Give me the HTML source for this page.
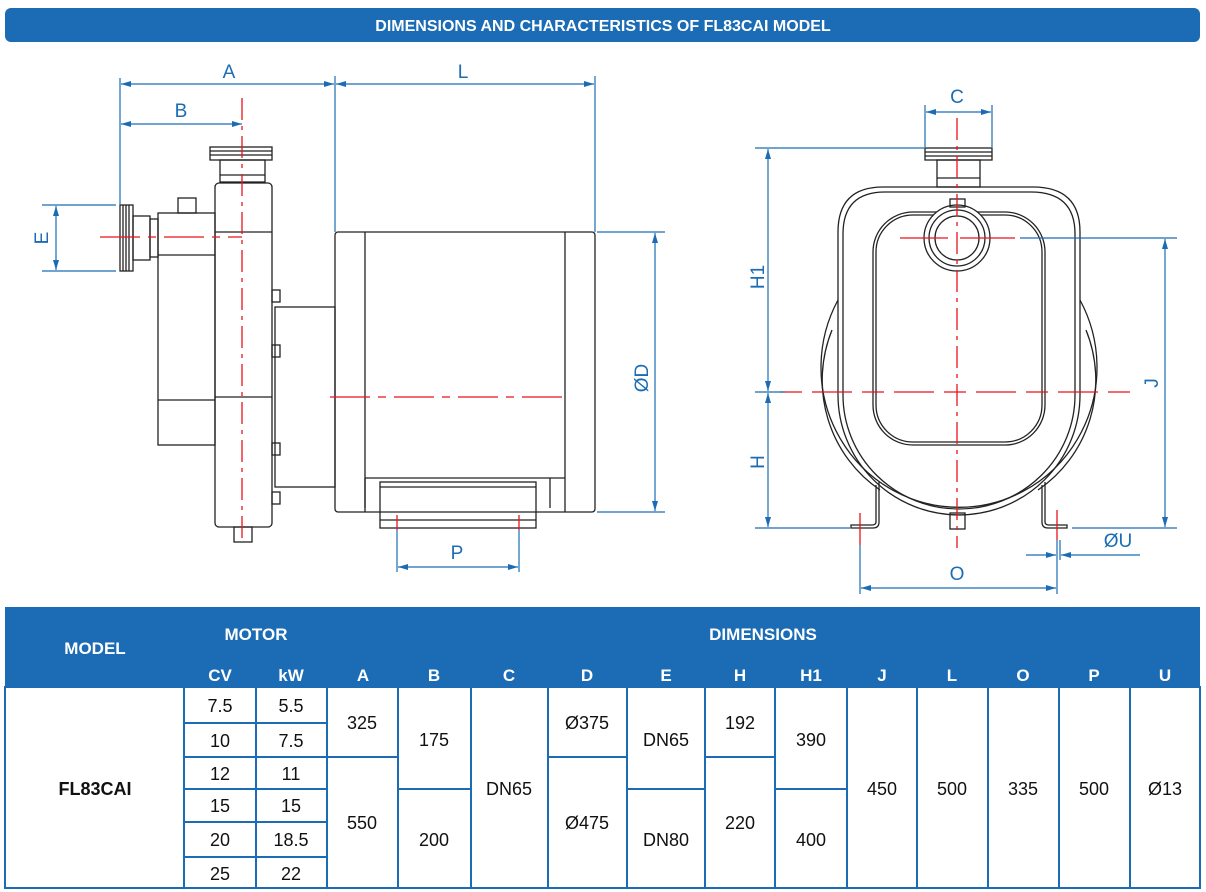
<!DOCTYPE html>
<html><head><meta charset="utf-8"><style>
html,body{margin:0;padding:0;background:#fff;}
svg{display:block;font-family:"Liberation Sans",sans-serif;}
</style></head><body>
<svg width="1206" height="892" viewBox="0 0 1206 892" xmlns="http://www.w3.org/2000/svg">
<defs>
<marker id="ar" viewBox="0 0 10 6" refX="10" refY="3" markerWidth="10" markerHeight="6" orient="auto-start-reverse" markerUnits="userSpaceOnUse"><path d="M0,0 L10,3 L0,6 z" fill="#1b6cb5"/></marker>
</defs>
<rect x="5" y="8" width="1195" height="34" rx="6" fill="#1b6cb5"/>
<text x="603" y="31" fill="#fff" font-size="16" font-weight="bold" text-anchor="middle">DIMENSIONS AND CHARACTERISTICS OF FL83CAI MODEL</text>

<g fill="none" stroke="#222" stroke-width="1.3">
 <rect x="210" y="147" width="62" height="13"/>
 <line x1="210" y1="151" x2="272" y2="151"/><line x1="210" y1="155" x2="272" y2="155"/>
 <rect x="220" y="160" width="45" height="22"/>
 <line x1="220" y1="175" x2="265" y2="175"/>
 <rect x="215" y="183" width="57" height="344" rx="4"/>
 <line x1="215" y1="232" x2="272" y2="232"/><line x1="215" y1="397" x2="272" y2="397"/>
 <rect x="158" y="213" width="57" height="232"/>
 <line x1="158" y1="400" x2="215" y2="400"/>
 <line x1="158" y1="255" x2="215" y2="255"/>
 <rect x="178" y="198" width="18" height="15"/>
 <rect x="120" y="205" width="13" height="66"/>
 <line x1="123" y1="205" x2="123" y2="271"/><line x1="126" y1="205" x2="126" y2="271"/><line x1="129" y1="205" x2="129" y2="271"/>
 <rect x="133" y="216" width="17" height="44"/>
 <rect x="150" y="219" width="8" height="38"/>
 <rect x="272" y="290" width="8" height="12"/><rect x="272" y="345" width="8" height="12"/>
 <rect x="272" y="443" width="8" height="12"/><rect x="272" y="492" width="8" height="12"/>
 <rect x="275" y="307" width="60" height="180"/>
 <rect x="335" y="232" width="260" height="280" rx="3"/>
 <line x1="365" y1="232" x2="365" y2="512"/><line x1="565" y1="232" x2="565" y2="512"/>
 <line x1="365" y1="478" x2="565" y2="478"/>
 <line x1="365" y1="478" x2="365" y2="508"/><line x1="550" y1="478" x2="550" y2="508"/>
 <rect x="380" y="482" width="156" height="46"/>
 <line x1="380" y1="487" x2="536" y2="487"/><line x1="380" y1="520" x2="536" y2="520"/>
 <rect x="234" y="527" width="18" height="15"/>
</g>
<g stroke="#e8141c" stroke-width="1.3" fill="none">
 <line x1="242" y1="98" x2="242" y2="540" stroke-dasharray="22,6,4,6"/>
 <line x1="100" y1="237" x2="242" y2="237" stroke-dasharray="40,8,8,8"/>
 <line x1="330" y1="397" x2="565" y2="397" stroke-dasharray="40,8,8,8"/>
 <line x1="397" y1="515" x2="397" y2="530"/><line x1="519" y1="515" x2="519" y2="530"/>
</g>
<g stroke="#1b6cb5" stroke-width="1.2" fill="none">
 <line x1="120" y1="78" x2="120" y2="205"/>
 <line x1="335" y1="76" x2="335" y2="232"/>
 <line x1="595" y1="76" x2="595" y2="232"/>
 <line x1="121" y1="84" x2="334" y2="84" marker-start="url(#ar)" marker-end="url(#ar)"/>
 <line x1="336" y1="84" x2="594" y2="84" marker-start="url(#ar)" marker-end="url(#ar)"/>
 <line x1="121" y1="124" x2="242" y2="124" marker-start="url(#ar)" marker-end="url(#ar)"/>
 <line x1="42" y1="205" x2="116" y2="205"/><line x1="42" y1="271" x2="116" y2="271"/>
 <line x1="56" y1="206" x2="56" y2="270" marker-start="url(#ar)" marker-end="url(#ar)"/>
 <line x1="597" y1="232" x2="665" y2="232"/><line x1="597" y1="512" x2="665" y2="512"/>
 <line x1="655" y1="233" x2="655" y2="511" marker-start="url(#ar)" marker-end="url(#ar)"/>
 <line x1="397" y1="530" x2="397" y2="572"/><line x1="519" y1="530" x2="519" y2="572"/>
 <line x1="398" y1="567" x2="518" y2="567" marker-start="url(#ar)" marker-end="url(#ar)"/>
</g>
<g fill="#1b6cb5" font-size="19" text-anchor="middle">
 <text x="229" y="78">A</text><text x="463" y="78">L</text><text x="181" y="117">B</text>
 <text x="457" y="559">P</text>
 <text transform="translate(48,238) rotate(-90)">E</text>
 <text transform="translate(648,378) rotate(-90)">ØD</text>
</g>

<g fill="none" stroke="#222" stroke-width="1.3">
 <rect x="925" y="148" width="67" height="12"/>
 <line x1="925" y1="152" x2="992" y2="152"/><line x1="925" y1="156" x2="992" y2="156"/>
 <rect x="937" y="160" width="43" height="27"/>
 <line x1="937" y1="178" x2="980" y2="178"/>
 <path d="M838,395 L838,232 Q838,187 883,187 L1033,187 Q1080,187 1080,232 L1080,395 A121,120 0 0,1 838,395"/>
 <path d="M843,395 L843,234 Q843,192 885,192 L1031,192 Q1075,192 1075,234 L1075,395 A116,114 0 0,1 843,395"/>
 <path d="M838,300 A138,140 0 1,0 1080,300"/>
 <path d="M832,330 A130,132 0 0,0 880,490"/>
 <path d="M1086,330 A130,132 0 0,1 1038,490"/>
 <rect x="873" y="212" width="172" height="233" rx="40"/>
 <rect x="876" y="215" width="166" height="227" rx="37"/>
 <circle cx="957" cy="238" r="33" fill="#fff"/><circle cx="957" cy="238" r="28"/><circle cx="957" cy="238" r="22"/>
 <rect x="950" y="199" width="15" height="8"/>
 <path d="M876,485 L876,522 Q876,525 872,525 L851,525 L851,528 L873,528 Q879,528 879,522 L879,482"/>
 <path d="M1042,485 L1042,522 Q1042,528 1048,528 L1067,528 L1067,525 L1049,525 Q1045,525 1045,522 L1045,482"/>
 <rect x="950" y="513" width="15" height="16"/>
</g>
<g stroke="#e8141c" stroke-width="1.3" fill="none">
 <line x1="957" y1="118" x2="957" y2="548" stroke-dasharray="22,6,4,6"/>
 <line x1="900" y1="238" x2="948" y2="238"/><line x1="960" y1="238" x2="1015" y2="238"/>
 <line x1="780" y1="392" x2="1140" y2="392" stroke-dasharray="22,10,40,10"/>
 <line x1="860" y1="513" x2="860" y2="545"/><line x1="1057" y1="510" x2="1057" y2="540"/>
</g>
<g stroke="#1b6cb5" stroke-width="1.2" fill="none">
 <line x1="925" y1="105" x2="925" y2="147"/><line x1="992" y1="105" x2="992" y2="147"/>
 <line x1="926" y1="112" x2="991" y2="112" marker-start="url(#ar)" marker-end="url(#ar)"/>
 <line x1="755" y1="148" x2="925" y2="148"/>
 <line x1="755" y1="392" x2="785" y2="392"/>
 <line x1="755" y1="528" x2="850" y2="528"/>
 <line x1="768" y1="149" x2="768" y2="391" marker-start="url(#ar)" marker-end="url(#ar)"/>
 <line x1="768" y1="393" x2="768" y2="527" marker-start="url(#ar)" marker-end="url(#ar)"/>
 <line x1="1020" y1="238" x2="1177" y2="238"/>
 <line x1="1072" y1="528" x2="1177" y2="528"/>
 <line x1="1165" y1="239" x2="1165" y2="527" marker-start="url(#ar)" marker-end="url(#ar)"/>
 <line x1="860" y1="545" x2="860" y2="594"/><line x1="1057" y1="540" x2="1057" y2="594"/>
 <line x1="1060" y1="540" x2="1060" y2="560"/>
 <line x1="861" y1="588" x2="1056" y2="588" marker-start="url(#ar)" marker-end="url(#ar)"/>
 <line x1="1026" y1="555" x2="1056" y2="555" marker-end="url(#ar)"/>
 <line x1="1140" y1="555" x2="1061" y2="555" marker-end="url(#ar)"/>
</g>
<g fill="#1b6cb5" font-size="19" text-anchor="middle">
 <text x="957" y="103">C</text><text x="957" y="580">O</text><text x="1118" y="547">ØU</text>
 <text transform="translate(764,277) rotate(-90)">H1</text>
 <text transform="translate(764,462) rotate(-90)">H</text>
 <text transform="translate(1158,383) rotate(-90)">J</text>
</g>

<rect x="5" y="607" width="1195" height="80" fill="#1b6cb5"/>
<g fill="#fff" font-size="17" font-weight="bold" text-anchor="middle">
 <text x="95" y="654">MODEL</text>
 <text x="256" y="640">MOTOR</text>
 <text x="763" y="640">DIMENSIONS</text>
 <text x="220" y="681">CV</text><text x="291" y="681">kW</text><text x="363" y="681">A</text>
 <text x="434" y="681">B</text><text x="509" y="681">C</text><text x="587" y="681">D</text>
 <text x="666" y="681">E</text><text x="740" y="681">H</text><text x="811" y="681">H1</text>
 <text x="882" y="681">J</text><text x="952" y="681">L</text><text x="1023" y="681">O</text>
 <text x="1094" y="681">P</text><text x="1165" y="681">U</text>
</g>
<g fill="none" stroke="#1b6cb5" stroke-width="2">
 <rect x="5" y="687" width="1195" height="201"/>
 <line x1="184" y1="687" x2="184" y2="888"/><line x1="256" y1="687" x2="256" y2="888"/>
 <line x1="327" y1="687" x2="327" y2="888"/><line x1="398" y1="687" x2="398" y2="888"/>
 <line x1="471" y1="687" x2="471" y2="888"/><line x1="548" y1="687" x2="548" y2="888"/>
 <line x1="627" y1="687" x2="627" y2="888"/><line x1="705" y1="687" x2="705" y2="888"/>
 <line x1="775" y1="687" x2="775" y2="888"/><line x1="847" y1="687" x2="847" y2="888"/>
 <line x1="917" y1="687" x2="917" y2="888"/><line x1="988" y1="687" x2="988" y2="888"/>
 <line x1="1059" y1="687" x2="1059" y2="888"/><line x1="1130" y1="687" x2="1130" y2="888"/>
 <line x1="184" y1="723" x2="327" y2="723"/><line x1="184" y1="757" x2="327" y2="757"/>
 <line x1="184" y1="789" x2="327" y2="789"/><line x1="184" y1="822" x2="327" y2="822"/>
 <line x1="184" y1="857" x2="327" y2="857"/>
 <line x1="327" y1="757" x2="398" y2="757"/>
 <line x1="398" y1="789" x2="471" y2="789"/>
 <line x1="548" y1="757" x2="627" y2="757"/>
 <line x1="627" y1="789" x2="705" y2="789"/>
 <line x1="705" y1="757" x2="775" y2="757"/>
 <line x1="775" y1="789" x2="847" y2="789"/>
</g>
<g fill="#111" font-size="18" text-anchor="middle">
 <text x="95" y="795" font-weight="bold">FL83CAI</text>
 <text x="220" y="712">7.5</text><text x="291" y="712">5.5</text>
 <text x="220" y="747">10</text><text x="291" y="747">7.5</text>
 <text x="220" y="780">12</text><text x="291" y="780">11</text>
 <text x="220" y="812">15</text><text x="291" y="812">15</text>
 <text x="220" y="846">20</text><text x="291" y="846">18.5</text>
 <text x="220" y="880">25</text><text x="291" y="880">22</text>
 <text x="362" y="729">325</text><text x="362" y="829">550</text>
 <text x="434" y="746">175</text><text x="434" y="846">200</text>
 <text x="509" y="795">DN65</text>
 <text x="587" y="729">Ø375</text><text x="587" y="829">Ø475</text>
 <text x="666" y="746">DN65</text><text x="666" y="846">DN80</text>
 <text x="740" y="729">192</text><text x="740" y="829">220</text>
 <text x="811" y="746">390</text><text x="811" y="846">400</text>
 <text x="882" y="795">450</text><text x="952" y="795">500</text>
 <text x="1023" y="795">335</text><text x="1094" y="795">500</text><text x="1165" y="795">Ø13</text>
</g>
</svg>
</body></html>
